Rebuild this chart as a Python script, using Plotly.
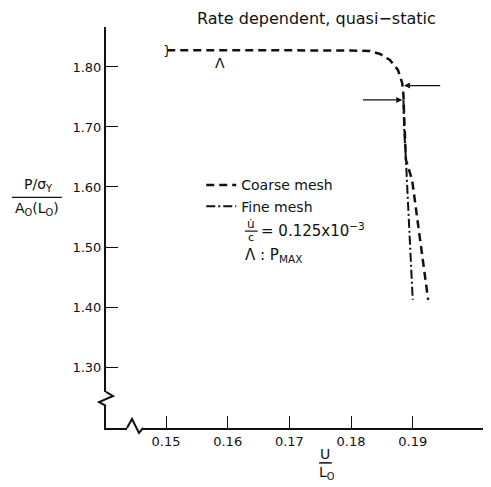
import plotly.graph_objects as go

# ---- data ----
coarse_x = [0.1502, 0.1600, 0.1700, 0.1800, 0.1831, 0.1847, 0.1863, 0.1876, 0.1883, 0.1885, 0.1886, 0.1889, 0.1899, 0.1912, 0.1925]
coarse_y = [1.828, 1.828, 1.828, 1.8275, 1.8266, 1.8217, 1.8117, 1.795, 1.773, 1.753, 1.720, 1.645, 1.612, 1.512, 1.412]
fine_x = [0.1885, 0.1886, 0.1889, 0.1895, 0.1900]
fine_y = [1.745, 1.700, 1.645, 1.530, 1.412]
pmax_x = [0.1588]
pmax_y = [1.828]
x_ticks = [0.15, 0.16, 0.17, 0.18, 0.19]
x_ticklabels = ["0.15", "0.16", "0.17", "0.18", "0.19"]
y_ticks = [1.30, 1.40, 1.50, 1.60, 1.70, 1.80]
y_ticklabels = ["1.30", "1.40", "1.50", "1.60", "1.70", "1.80"]
arrow_upper = dict(head_x=0.1886, tail_x=0.1947, y=1.769)
arrow_lower = dict(head_x=0.1883, tail_x=0.1817, y=1.745)

FONT = "DejaVu Sans"
INK = "#111111"

fig = go.Figure()
fig.add_trace(go.Scatter(x=coarse_x, y=coarse_y, mode="lines", name="Coarse mesh",
                         line=dict(color=INK, width=2.5, dash="8px,5px")))
fig.add_trace(go.Scatter(x=fine_x, y=fine_y, mode="lines", name="Fine mesh",
                         line=dict(color=INK, width=2, dash="9px,3px,2px,3px")))

ann = []
# P_max marker
ann.append(dict(x=pmax_x[0], y=pmax_y[0], xref="x", yref="y", text="Λ", showarrow=False, yshift=-13,
                font=dict(family=FONT, size=14, color=INK), xanchor="center", yanchor="middle"))
# start bracket on coarse curve
ann.append(dict(x=coarse_x[0], y=coarse_y[0], xref="x", yref="y", text="}", showarrow=False,
                font=dict(family=FONT, size=13, color=INK), xanchor="center", yanchor="middle"))
# arrows
for a in (arrow_upper, arrow_lower):
    ann.append(dict(x=a["head_x"], y=a["y"], ax=a["tail_x"], ay=a["y"], xref="x", yref="y",
                    axref="x", ayref="y", text="", showarrow=True, arrowhead=2, arrowsize=1,
                    arrowwidth=1.2, arrowcolor=INK, standoff=0))

# title
ann.append(dict(x=0.547, y=1.0, xref="paper", yref="paper", yshift=9, text="Rate dependent, quasi−static",
                showarrow=False, font=dict(family=FONT, size=16, color=INK), xanchor="center", yanchor="middle"))
# y-axis label (fraction)
ann.append(dict(x=-0.177, y=0.607, xref="paper", yref="paper", text="P/σ<sub>Y</sub>", showarrow=False,
                font=dict(family=FONT, size=14, color=INK), xanchor="center", yanchor="middle"))
ann.append(dict(x=-0.18, y=0.545, xref="paper", yref="paper", text="A<sub>O</sub>(L<sub>O</sub>)", showarrow=False,
                font=dict(family=FONT, size=14, color=INK), xanchor="center", yanchor="middle"))
# x-axis label (fraction)
ann.append(dict(x=0.57, y=-0.066, xref="paper", yref="paper", text="U", showarrow=False,
                font=dict(family=FONT, size=14, color=INK), xanchor="center", yanchor="middle"))
ann.append(dict(x=0.575, y=-0.113, xref="paper", yref="paper", text="L<sub>O</sub>", showarrow=False,
                font=dict(family=FONT, size=14, color=INK), xanchor="center", yanchor="middle"))
# legend extra notes
ann.append(dict(x=0.378, y=0.508, xref="paper", yref="paper", text="u̇", showarrow=False,
                font=dict(family=FONT, size=12, color=INK), xanchor="center", yanchor="middle"))
ann.append(dict(x=0.378, y=0.474, xref="paper", yref="paper", text="c", showarrow=False,
                font=dict(family=FONT, size=11, color=INK), xanchor="center", yanchor="middle"))
ann.append(dict(x=0.398, y=0.494, xref="paper", yref="paper", text="= 0.125x10<sup>−3</sup>", showarrow=False,
                font=dict(family=FONT, size=15, color=INK), xanchor="left", yanchor="middle"))
ann.append(dict(x=0.358, y=0.430, xref="paper", yref="paper", text="Λ : P<sub>MAX</sub>", showarrow=False,
                font=dict(family=FONT, size=15, color=INK), xanchor="left", yanchor="middle"))

shapes = []
# fraction bars
shapes.append(dict(type="line", xref="paper", yref="paper", x0=-0.245, x1=-0.115, y0=0.575, y1=0.575,
                   line=dict(color=INK, width=1.2)))
shapes.append(dict(type="line", xref="paper", yref="paper", x0=0.555, x1=0.588, y0=-0.087, y1=-0.087,
                   line=dict(color=INK, width=1.5)))
shapes.append(dict(type="line", xref="paper", yref="paper", x0=0.362, x1=0.395, y0=0.491, y1=0.491,
                   line=dict(color=INK, width=1.2)))
# axis break marks: white cover then zigzag
shapes.append(dict(type="line", xref="paper", yref="paper", x0=0, x1=0, y0=0.0549, y1=0.0898,
                   line=dict(color="white", width=4)))
shapes.append(dict(type="path", xref="paper", yref="paper",
                   path="M 0 0.0898 L 0.0182 0.0798 L -0.0182 0.0648 L 0 0.0549",
                   line=dict(color=INK, width=2)))
shapes.append(dict(type="line", xref="paper", yref="paper", x0=0.0547, x1=0.0964, y0=0, y1=0,
                   line=dict(color="white", width=4)))
shapes.append(dict(type="path", xref="paper", yref="paper",
                   path="M 0.0547 0 L 0.0677 0.0224 L 0.0859 -0.0125 L 0.0964 0",
                   line=dict(color=INK, width=2)))

fig.update_layout(
    width=483, height=479,
    margin=dict(l=98, r=1, t=19, b=59),
    paper_bgcolor="white", plot_bgcolor="white",
    font=dict(family=FONT, size=13, color=INK),
    showlegend=True,
    legend=dict(x=0.248, y=0.645, xanchor="left", yanchor="top", bgcolor="rgba(0,0,0,0)",
                font=dict(family=FONT, size=14, color=INK), tracegroupgap=0, itemwidth=30),
    annotations=ann, shapes=shapes,
    xaxis=dict(range=[0.14027, 0.20253], tickvals=x_ticks, ticktext=x_ticklabels,
               ticks="inside", ticklen=12, tickwidth=1, tickcolor=INK,
               showline=True, linecolor=INK, linewidth=2, showgrid=False, zeroline=False,
               tickfont=dict(family=FONT, size=13, color=INK)),
    yaxis=dict(range=[1.1984, 1.8666], tickvals=y_ticks, ticktext=y_ticklabels,
               ticks="inside", ticklen=12, tickwidth=1, tickcolor=INK,
               showline=True, linecolor=INK, linewidth=2, showgrid=False, zeroline=False,
               tickfont=dict(family=FONT, size=13, color=INK)),
)

fig.write_html("out.html")
